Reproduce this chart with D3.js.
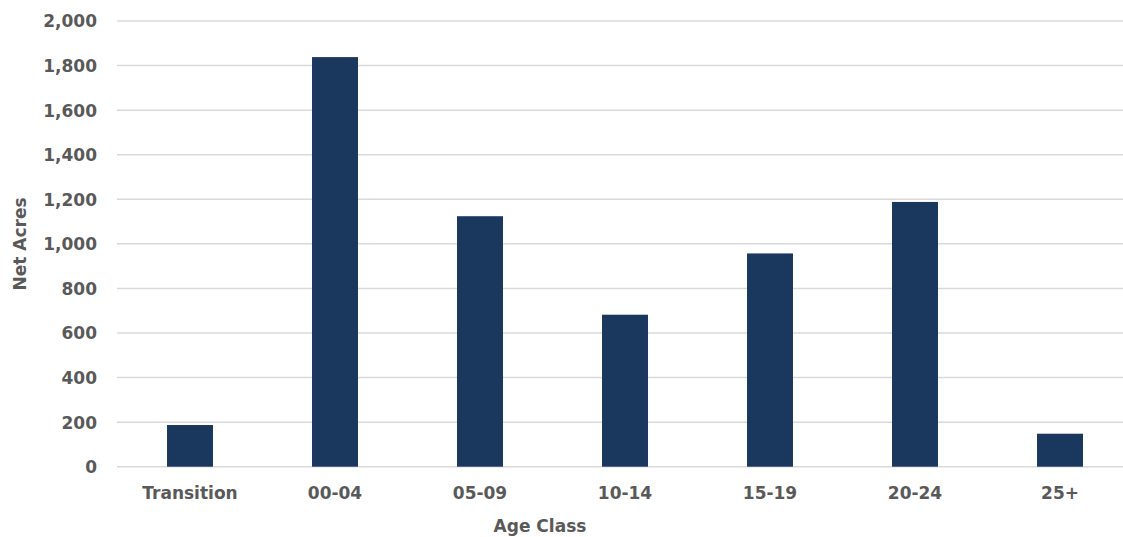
<!DOCTYPE html>
<html><head><meta charset="utf-8">
<script src="https://cdn.jsdelivr.net/npm/d3@7"></script>
<style>body{margin:0;background:#fff;} text{font-family:"DejaVu Sans",sans-serif;font-weight:700;fill:#595959;}</style>
</head><body><svg id="c" width="1123" height="537"></svg>
<script>
const categories = ["Transition","00-04","05-09","10-14","15-19","20-24","25+"];
const values = [187, 1838, 1124, 682, 957, 1188, 148];
const yTicks = [0,200,400,600,800,1000,1200,1400,1600,1800,2000];

const svg = d3.select("#c");
const x = d3.scaleBand().domain(categories).range([117.5, 1132.5]).paddingInner(0.683).paddingOuter(0.3415);
const y = d3.scaleLinear().domain([0,2000]).range([466.7, 21]);
const fmt = d3.format(",");

const grid = svg.append("g");
grid.selectAll("line").data(yTicks).join("line")
  .attr("x1",117).attr("x2",1123)
  .attr("y1",d=>y(d)).attr("y2",d=>y(d))
  .attr("stroke","#d9d9d9").attr("stroke-width",1.5);

svg.append("g").selectAll("rect").data(values).join("rect")
  .attr("x",(d,i)=>x(categories[i])).attr("width",x.bandwidth())
  .attr("y",d=>y(d)).attr("height",d=>y(0)-y(d))
  .attr("fill","#1a375e");

const yAxis = svg.append("g").attr("transform","translate(117,0)")
  .call(d3.axisLeft(y).tickValues(yTicks).tickFormat(fmt).tickSize(0).tickPadding(20));
yAxis.select(".domain").remove();
yAxis.selectAll("text").style("font-size","17px").style("font-family",null).attr("dy","0.35em");

const xAxis = svg.append("g").attr("transform","translate(0,466.7)")
  .call(d3.axisBottom(x).tickSize(0).tickPadding(20));
xAxis.select(".domain").remove();
xAxis.selectAll("text").style("font-size","17px").style("font-family",null).attr("dy","0.71em");

svg.append("text").attr("x",540).attr("y",532).attr("text-anchor","middle").style("font-size","17px").text("Age Class");
svg.append("text").attr("transform","translate(26,244) rotate(-90)").attr("text-anchor","middle").style("font-size","17px").text("Net Acres");
</script></body></html>
